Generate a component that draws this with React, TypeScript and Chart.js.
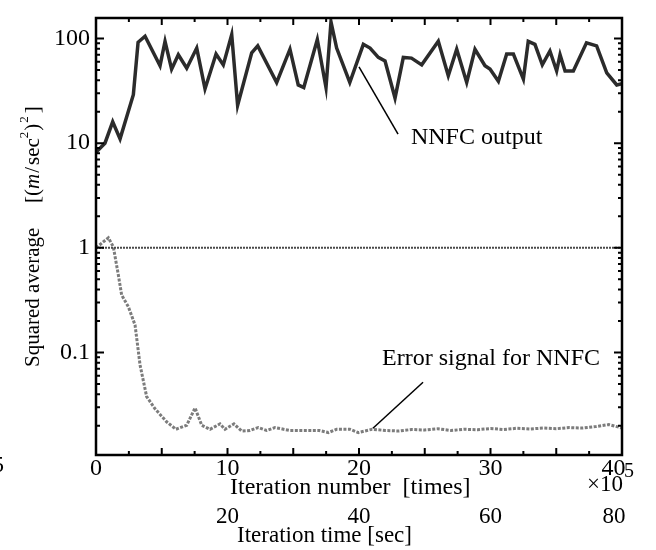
import React, { useEffect, useRef } from 'react';
import { Chart, registerables } from 'chart.js';

Chart.register(...registerables);

// ---------- data ----------
const nnfcX = [0, 0.68, 1.27, 1.83, 2.84, 3.2, 3.73, 4.87, 5.25, 5.75, 6.26, 6.9, 7.66, 8.29, 9.13, 9.68, 10.32, 10.77, 11.84, 12.3, 13.74, 14.75, 15.38, 15.8, 16.83, 17.49, 17.87, 18.3, 19.3, 20.33, 20.84, 21.47, 21.98, 22.74, 23.37, 23.99, 24.77, 26.03, 26.79, 27.43, 28.19, 28.82, 29.58, 29.96, 30.6, 31.23, 31.74, 32.5, 32.87, 33.38, 33.94, 34.52, 35.03, 35.29, 35.67, 36.3, 37.3, 38.07, 38.84, 39.6, 40];
const nnfcY = [8.2, 10, 16, 11, 29, 92, 105, 55, 94, 51, 70, 52, 81, 33, 71, 56, 109, 23, 73, 85, 38, 79, 36, 34, 98, 34, 144, 81, 38, 88, 81, 66, 61, 27, 66, 65, 56, 94, 44, 79, 38, 79, 55, 51, 39, 71, 71, 41, 94, 88, 56, 76, 49, 70, 49, 49, 91, 85, 47, 36, 37];

const errX = [0, 0.94, 1.32, 1.7, 1.95, 2.46, 2.97, 3.35, 3.85, 4.49, 5.37, 6.08, 6.9, 7.53, 8.04, 8.67, 9.43, 9.81, 10.49, 11.08, 11.71, 12.34, 12.97, 13.61, 14.75, 16, 17, 17.67, 18.3, 19.3, 19.95, 21, 22, 23, 24, 25, 26, 27, 28, 29, 30, 31, 32, 33, 34, 35, 36, 37, 38, 39, 40];
const errY = [1.0, 1.25, 1.02, 0.55, 0.354, 0.274, 0.183, 0.076, 0.038, 0.029, 0.0218, 0.0185, 0.0202, 0.0296, 0.0202, 0.0185, 0.0208, 0.0185, 0.0208, 0.0178, 0.018, 0.0192, 0.018, 0.0192, 0.018, 0.018, 0.018, 0.0172, 0.0185, 0.0185, 0.0172, 0.0185, 0.018, 0.0178, 0.0184, 0.0182, 0.0187, 0.018, 0.0185, 0.0183, 0.0188, 0.0184, 0.0189, 0.0186, 0.019, 0.0187, 0.0192, 0.019, 0.0196, 0.0205, 0.019];

const refX = [0, 40];
const refY = [1, 1];

const xTickValues = [0, 10, 20, 30, 40];
const xTickLabels = ['0', '10', '20', '30', '40\u2002\u2009'];
const timeTickValues = [10, 20, 30, 40];
const timeTickLabels = ['20', '40', '60', '80\u2002\u2009'];
const yTickValues = [0.1, 1, 10, 100];
const yTickLabels = ['0.1', '1', '10', '100'];

const xTitle = 'Iteration number  [times]';
const xExponentBase = '×10';
const xExponent = '5';
const timeTitle = 'Iteration time [sec]';
const yTitleMain = 'Squared average';

const nnfcLabel = { text: 'NNFC output', x: 23.95, y: 11.2 };
const nnfcLeader = { x1: 20.0, y1: 53.6, x2: 22.97, y2: 12.2 };
const errLabel = { text: 'Error signal for NNFC', x: 21.75, y: 0.0865 };
const errLeader = { x1: 24.87, y1: 0.0521, x2: 21.06, y2: 0.0189 };

const FONT = "'Liberation Serif', 'DejaVu Serif', serif";

const decorPlugin = {
  id: 'decor',
  afterDraw(chart: any) {
    const { ctx, chartArea: ca, scales } = chart;
    const xs = scales.x;
    const ys = scales.y;
    ctx.save();
    ctx.strokeStyle = '#000';
    ctx.fillStyle = '#000';

    // frame
    ctx.lineWidth = 2.5;
    ctx.beginPath();
    ctx.rect(ca.left, ca.top, ca.right - ca.left, ca.bottom - ca.top);
    ctx.stroke();

    // inward x ticks (top and bottom)
    ctx.lineWidth = 2;
    for (let i = 0; i <= 16; i++) {
      const px = xs.getPixelForValue(i * 2.5);
      const len = i % 2 === 0 ? 7 : 4;
      ctx.beginPath();
      ctx.moveTo(px, ca.bottom);
      ctx.lineTo(px, ca.bottom - len);
      ctx.moveTo(px, ca.top);
      ctx.lineTo(px, ca.top + len);
      ctx.stroke();
    }
    // inward y ticks (left and right), log minors
    for (let d = -2; d <= 2; d++) {
      for (let m = 1; m <= 9; m++) {
        const v = m * Math.pow(10, d);
        if (v < ys.min || v > ys.max) continue;
        const py = ys.getPixelForValue(v);
        const len = m === 1 ? 8 : 4;
        ctx.beginPath();
        ctx.moveTo(ca.left, py);
        ctx.lineTo(ca.left + len, py);
        ctx.moveTo(ca.right, py);
        ctx.lineTo(ca.right - len, py);
        ctx.stroke();
      }
    }

    // annotations
    ctx.lineWidth = 1.5;
    const leader = (l: any) => {
      ctx.beginPath();
      ctx.moveTo(xs.getPixelForValue(l.x1), ys.getPixelForValue(l.y1));
      ctx.lineTo(xs.getPixelForValue(l.x2), ys.getPixelForValue(l.y2));
      ctx.stroke();
    };
    leader(nnfcLeader);
    leader(errLeader);
    ctx.font = `24px ${FONT}`;
    ctx.textAlign = 'left';
    ctx.textBaseline = 'middle';
    ctx.fillText(nnfcLabel.text, xs.getPixelForValue(nnfcLabel.x), ys.getPixelForValue(nnfcLabel.y));
    ctx.fillText(errLabel.text, xs.getPixelForValue(errLabel.x), ys.getPixelForValue(errLabel.y));

    // x titles & secondary row
    ctx.font = `24px ${FONT}`;
    ctx.textAlign = 'left';
    ctx.fillText(xTitle, ca.left + 134, ca.bottom + 33);
    ctx.font = `23px ${FONT}`;
    ctx.fillText(xExponentBase, ca.right - 35, ca.bottom + 30);
    ctx.font = `20px ${FONT}`;
    ctx.fillText(xExponent, ca.right + 2, ca.bottom + 17);
    ctx.font = `23px ${FONT}`;
    ctx.textAlign = 'center';
    timeTickValues.forEach((v, i) => {
      ctx.fillText(timeTickLabels[i], xs.getPixelForValue(v), ca.bottom + 62);
    });
    ctx.textAlign = 'left';
    ctx.fillText(timeTitle, ca.left + 141, ca.bottom + 81);
    // stray clipped glyph at left edge
    ctx.textAlign = 'right';
    ctx.fillText('5', 4, ca.bottom + 11);

    // y title (rotated, mixed styles)
    ctx.save();
    ctx.translate(ca.left - 63, ca.bottom - 88);
    ctx.rotate(-Math.PI / 2);
    ctx.textAlign = 'left';
    ctx.textBaseline = 'middle';
    let cx = 0;
    const seg = (t: string, font: string, dy = 0) => {
      ctx.font = font;
      ctx.fillText(t, cx, dy);
      cx += ctx.measureText(t).width;
    };
    const normal = `21px ${FONT}`;
    seg(yTitleMain, normal);
    cx = 164;
    seg('[(', normal);
    seg('m', `italic 21px ${FONT}`);
    cx += 1;
    seg('/', normal);
    cx += 2;
    seg('sec', normal);
    seg('2', `13px ${FONT}`, -8);
    cx += 1;
    seg(')', normal);
    cx += 1;
    seg('2', `13px ${FONT}`, -8);
    cx += 3;
    seg(']', normal);
    ctx.restore();

    ctx.restore();
  },
};

export default function App() {
  const ref = useRef<HTMLCanvasElement>(null);
  useEffect(() => {
    if (!ref.current) return;
    const chart = new Chart(ref.current, {
      type: 'line',
      data: {
        datasets: [
          {
            label: 'Reference',
            data: refX.map((x, i) => ({ x, y: refY[i] })),
            borderColor: '#4a4a4a',
            borderWidth: 2,
            borderDash: [2, 1],
            pointRadius: 0,
          },
          {
            label: 'Error signal for NNFC',
            data: errX.map((x, i) => ({ x, y: errY[i] })),
            borderColor: '#7c7c7c',
            borderWidth: 3,
            borderDash: [3, 1.5],
            pointRadius: 0,
            tension: 0,
          },
          {
            label: 'NNFC output',
            data: nnfcX.map((x, i) => ({ x, y: nnfcY[i] })),
            borderColor: '#2b2b2b',
            borderWidth: 3.5,
            pointRadius: 0,
            tension: 0,
          },
        ],
      },
      options: {
        animation: false,
        responsive: false,
        layout: { padding: { top: 18, right: 34, bottom: 0, left: 0 } },
        plugins: { legend: { display: false }, tooltip: { enabled: false } },
        scales: {
          x: {
            type: 'linear',
            min: 0,
            max: 40,
            grid: { display: false, drawTicks: false, tickLength: 0 },
            border: { display: false },
            afterBuildTicks: (s: any) => {
              s.ticks = xTickValues.map((v) => ({ value: v }));
            },
            afterFit: (s: any) => {
              s.height = 95;
            },
            ticks: {
              autoSkip: false,
              maxRotation: 0,
              padding: 2,
              color: '#000',
              font: { family: FONT, size: 24, lineHeight: 1 },
              callback: (_v: any, i: number) => xTickLabels[i],
            },
          },
          y: {
            type: 'logarithmic',
            min: 0.0105,
            max: 157,
            grid: { display: false, drawTicks: false, tickLength: 0 },
            border: { display: false },
            afterBuildTicks: (s: any) => {
              s.ticks = yTickValues.map((v) => ({ value: v }));
            },
            afterFit: (s: any) => {
              s.width = 96;
            },
            ticks: {
              autoSkip: false,
              padding: 6,
              color: '#000',
              font: { family: FONT, size: 24, lineHeight: 1 },
              callback: (_v: any, i: number) => yTickLabels[i],
            },
          },
        },
      },
      plugins: [decorPlugin],
    } as any);
    return () => chart.destroy();
  }, []);
  return (
    <div style={{ position: 'absolute', left: 0, top: 0, width: 656, height: 550, background: '#fff' }}>
      <canvas ref={ref} width={656} height={550} style={{ display: 'block' }} />
    </div>
  );
}
